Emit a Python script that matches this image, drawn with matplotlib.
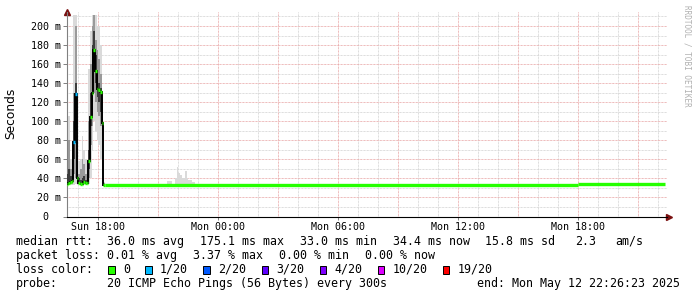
import matplotlib
matplotlib.use("Agg")
import matplotlib.pyplot as plt
import matplotlib.dates as mdates
from datetime import datetime, timedelta

# time window of the graph (30 h ending at the "end:" stamp)
t_begin = datetime(2025, 5, 11, 16, 26, 23)
t_end = datetime(2025, 5, 12, 22, 26, 23)
step = timedelta(minutes=5)

# spike period, 5 minute steps, first step ends at 16:30
spike_first = datetime(2025, 5, 11, 16, 30)
spike_med = [34.1, 35.5, 36.0, 37.3, 78.5, 128.6, 40.7, 35.2, 34.0, 34.0, 36.5, 35.0,
             35.5, 58.0, 104.5, 129.7, 175.1, 152.8, 133.9, 133.0, 131.0, 98.5, 33.5]
spike_loss = [0, 0, 0, 0, 1, 1, 0, 0, 0, 0, 0, 0, 0, 0, 0, 0, 0, 0, 0, 0, 0, 0, 0]
outer_hi = [106, 106, 60, 80, 212, 212, 70, 58, 60, 84, 70, 60,
            40, 155, 195, 212, 212, 212, 200, 200, 180, 125, 36]
outer_lo = [32, 33, 33, 33, 33, 34, 33, 33, 33, 33, 33, 33,
            33, 34, 40, 70, 100, 90, 80, 75, 60, 45, 33]
mid_hi = [60, 80, 50, 78, 130, 200, 60, 45, 50, 60, 55, 45,
          38, 100, 160, 200, 212, 185, 175, 165, 150, 110, 35]
mid_lo = [33, 34, 34, 34, 45, 40, 35, 34, 33, 33, 34, 34,
          34, 40, 75, 95, 130, 120, 110, 105, 95, 70, 33]
core_hi = [45, 50, 42, 65, 100, 140, 50, 40, 38, 40, 42, 38,
           36, 70, 130, 180, 195, 170, 150, 140, 135, 102, 34]
core_lo = [33, 34, 35, 36, 60, 90, 36, 34, 33, 33, 35, 34,
           34, 50, 95, 120, 160, 140, 125, 120, 110, 85, 33]

# small smoke bump in the evening
bump_first = datetime(2025, 5, 11, 21, 30)
bump_hi = [37, 37, 37, 34, 34, 40, 52, 46, 44, 40, 40, 48, 40, 38, 38, 36, 36]
bump_lo = 33.4

# flat median after the spike
flat_times = [datetime(2025, 5, 11, 18, 20), datetime(2025, 5, 12, 18, 0),
              datetime(2025, 5, 12, 22, 20)]
flat_values = [33.5, 34.4]

loss_labels = ["0", "1/20", "2/20", "3/20", "4/20", "10/20", "19/20"]
loss_colors = ["#26ff00", "#00b8ff", "#0059ff", "#5e00ff", "#7e00ff", "#dd00ff", "#ff0000"]

tick_times = [datetime(2025, 5, 11, 18), datetime(2025, 5, 12, 0), datetime(2025, 5, 12, 6),
              datetime(2025, 5, 12, 12), datetime(2025, 5, 12, 18)]
tick_labels = ["Sun 18:00", "Mon 00:00", "Mon 06:00", "Mon 12:00", "Mon 18:00"]
ytick_values = [0, 20, 40, 60, 80, 100, 120, 140, 160, 180, 200]
ytick_labels = ["0  "] + ["%d m" % v for v in ytick_values[1:]]

# legend rows: (text, x position in px)
row_rtt = [("median rtt:", 16), ("36.0 ms avg", 107.3), ("175.1 ms max", 200),
           ("33.0 ms min", 300), ("34.4 ms now", 393.3), ("15.8 ms sd", 485),
           ("2.3", 575), ("am/s", 615)]
row_loss = [("packet loss:", 16), ("0.01 % avg", 107.3), ("3.37 % max", 193.3),
            ("0.00 % min", 279.3), ("0.00 % now", 365)]
row_probe = [("probe:", 16), ("20 ICMP Echo Pings (56 Bytes) every 300s", 107.3)]
end_text = "end: Mon May 12 22:26:23 2025"

W, H = 697, 297
mono = "DejaVu Sans Mono"
fig = plt.figure(figsize=(W / 100, H / 100), dpi=100)
ax = fig.add_axes([67 / W, (H - 216.5) / H, 600 / W, 204.5 / H])
ax.set_xlim(mdates.date2num(t_begin), mdates.date2num(t_end))
ax.set_ylim(0, 214.7)

# grid (1 px dots)
dot = (0, (0.72, 0.72))
t = datetime(2025, 5, 11, 17)
while t < t_end:
    major = t.hour % 3 == 0
    ax.axvline(mdates.date2num(t), color="#e8a4a4" if major else "#d2d2d2",
               lw=0.72, ls=dot, zorder=0)
    t += timedelta(hours=1)
for v in range(10, 215, 10):
    ax.axhline(v, color="#e8a4a4" if v % 20 == 0 else "#d2d2d2", lw=0.72, ls=dot, zorder=0)

# smoke
edges = [mdates.date2num(spike_first + step * (i - 1)) for i in range(len(spike_med) + 1)]
ax.stairs(outer_hi, edges, baseline=outer_lo, fill=True, color="#dadada", lw=0, zorder=1)
ax.stairs(mid_hi, edges, baseline=mid_lo, fill=True, color="#9a9a9a", lw=0, zorder=2)
ax.stairs(core_hi, edges, baseline=core_lo, fill=True, color="#3c3c3c", lw=0, zorder=3)
bedges = [mdates.date2num(bump_first + step * (i - 1)) for i in range(len(bump_hi) + 1)]
ax.stairs(bump_hi, bedges, baseline=bump_lo, fill=True, color="#dadada", lw=0, zorder=1)

# median
ax.stairs(spike_med, edges, baseline=None, color="black", lw=1.4, zorder=4)
for i, v in enumerate(spike_med):
    ax.hlines(v, edges[i], edges[i + 1], color=loss_colors[spike_loss[i]], lw=2.4, zorder=5)
for i, v in enumerate(flat_values):
    ax.hlines(v, mdates.date2num(flat_times[i]), mdates.date2num(flat_times[i + 1]),
              color=loss_colors[0], lw=2.4, zorder=5)

# axes
for s in ["top", "right"]:
    ax.spines[s].set_visible(False)
ax.spines["left"].set_color("#808080")
ax.spines["bottom"].set_color("black")
ax.set_xticks([mdates.date2num(d) for d in tick_times])
ax.set_xticklabels(tick_labels, fontfamily=mono, fontsize=7.2)
ax.set_yticks(ytick_values)
ax.set_yticklabels(ytick_labels, fontfamily=mono, fontsize=7.2)
ax.tick_params(axis="y", length=3, width=0.7, color="#808080", pad=1.5)
ax.tick_params(axis="x", length=2, width=0.7, color="#808080", pad=2)
ax.plot([0], [1.0], marker="^", color="#7a1010", ms=4, transform=ax.transAxes, clip_on=False)
ax.plot([1.004], [0], marker=">", color="#7a1010", ms=4, transform=ax.transAxes, clip_on=False)
fig.text(11 / W, 1 - 113.5 / H, "Seconds", fontsize=8.8, rotation=90, ha="center", va="center")

# legend text
rows = [241.5, 255.5, 269.5, 283.5]
for row, y in zip([row_rtt, row_loss, row_probe], [rows[0], rows[1], rows[3]]):
    for txt, x in row:
        fig.text(x / W, 1 - y / H, txt, family=mono, fontsize=8.4, va="center", ha="left")
fig.text(16 / W, 1 - rows[2] / H, "loss color:", family=mono, fontsize=8.4, va="center")
cw = 7.03
x = 108.3
for lab, col in zip(loss_labels, loss_colors):
    fig.patches.append(plt.Rectangle((x / W, 1 - (rows[2] + 4) / H), 6.5 / W, 8 / H,
                                     facecolor=col, edgecolor="black", lw=0.7,
                                     transform=fig.transFigure))
    fig.text((x + 14.5) / W, 1 - rows[2] / H, lab, family=mono, fontsize=8.4, va="center")
    x = x + 14.5 + len(lab) * cw + 15.5
fig.text(680 / W, 1 - rows[3] / H, end_text, family=mono, fontsize=8.4, va="center", ha="right")
fig.text(687 / W, 1 - 5 / H, "RRDTOOL / TOBI OETIKER", family=mono, fontsize=5.5,
         color="#b0b0b0", rotation=270, ha="center", va="top")

fig.savefig("out.png", dpi=100)
